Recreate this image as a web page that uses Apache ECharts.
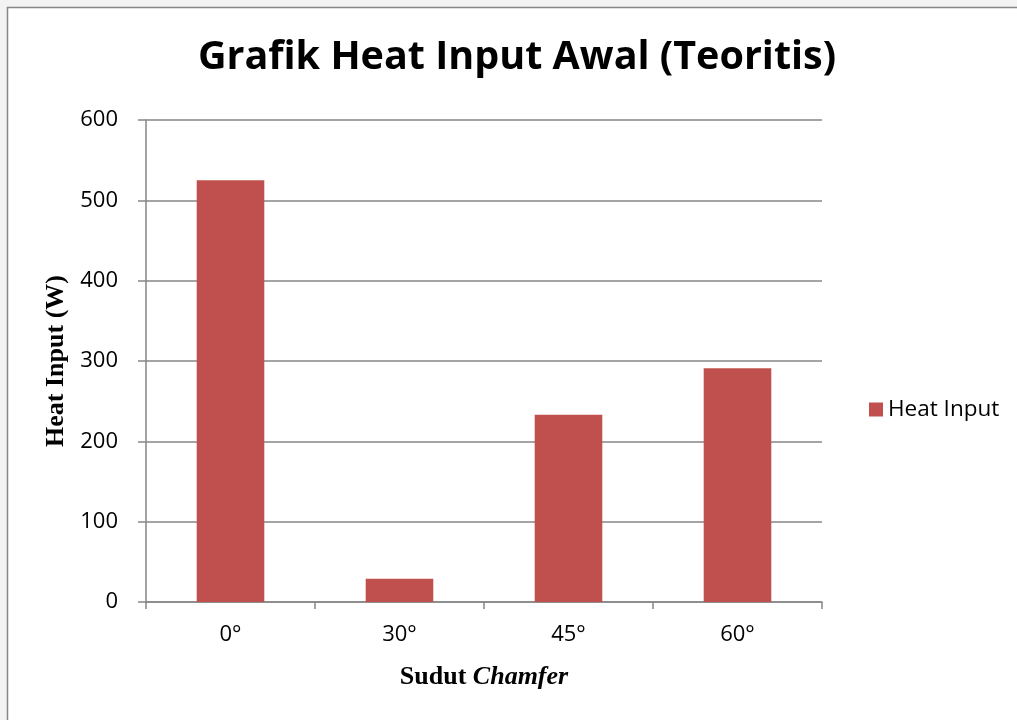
<!DOCTYPE html>
<html>
<head>
<meta charset="utf-8">
<script src="https://cdn.jsdelivr.net/npm/echarts@6/dist/echarts.min.js"></script>
<style>
  html, body { margin: 0; padding: 0; background: #f3f3f3; }
  #chart { width: 1017px; height: 720px; }
</style>
</head>
<body>
<div id="chart"></div>
<script>
var categories = ['0°', '30°', '45°', '60°'];
var heatInput = [525, 29, 233, 291];
var yTicks = { min: 0, max: 600, interval: 100 };

var chartDom = document.getElementById('chart');
var myChart = echarts.init(chartDom);
var option;

option = {
    backgroundColor: '#f3f3f3',
    graphic: [
        {
            type: 'rect',
            z: -10,
            shape: { x: 7.5, y: 7.5, width: 1030, height: 730 },
            style: { fill: '#ffffff', stroke: '#868686', lineWidth: 1.5 }
        }
    ],
    title: {
        text: 'Grafik Heat Input Awal (Teoritis)',
        left: 512,
        textAlign: 'center',
        top: 33,
        textStyle: {
            fontFamily: 'Open Sans',
            fontWeight: 'bold',
            fontSize: 39.5,
            color: '#000'
        }
    },
    legend: {
        data: ['Heat Input'],
        orient: 'vertical',
        left: 864,
        top: 393,
        itemWidth: 14,
        itemHeight: 14,
        itemGap: 8,
        icon: 'rect',
        textStyle: { fontFamily: 'Open Sans', fontSize: 22.5, color: '#000' }
    },
    grid: { left: 146, right: 195, top: 120, bottom: 118 },
    xAxis: {
        type: 'category',
        data: categories,
        name: '{b|Sudut }{bi|Chamfer}',
        nameLocation: 'middle',
        nameGap: 62,
        nameTextStyle: {
            rich: {
                b: { fontFamily: 'Liberation Serif', fontWeight: 'bold', fontSize: 26, color: '#000' },
                bi: { fontFamily: 'Liberation Serif', fontWeight: 'bold', fontStyle: 'italic', fontSize: 26, color: '#000' }
            }
        },
        axisLine: { lineStyle: { color: '#868686', width: 1.5 } },
        axisTick: { show: true, length: 7, lineStyle: { color: '#868686', width: 1.5 } },
        axisLabel: { fontFamily: 'Open Sans', fontSize: 22, color: '#000', margin: 22 }
    },
    yAxis: {
        type: 'value',
        min: yTicks.min,
        max: yTicks.max,
        interval: yTicks.interval,
        name: 'Heat Input (W)',
        nameLocation: 'middle',
        nameGap: 72,
        nameTextStyle: {
            fontFamily: 'Liberation Serif',
            fontWeight: 'bold',
            fontSize: 26,
            color: '#000'
        },
        axisLine: { show: true, lineStyle: { color: '#868686', width: 1.5 } },
        axisTick: { show: true, length: 8, lineStyle: { color: '#868686', width: 1.5 } },
        axisLabel: { fontFamily: 'Open Sans', fontSize: 22, color: '#000', margin: 28 },
        splitLine: { lineStyle: { color: '#868686', width: 1.5 } }
    },
    series: [
        {
            name: 'Heat Input',
            type: 'bar',
            data: heatInput,
            barWidth: '40%',
            itemStyle: { color: '#C0504D' }
        }
    ]
};

option && myChart.setOption(option);
window.addEventListener('resize', function () {
    myChart.resize();
});
</script>
</body>
</html>
